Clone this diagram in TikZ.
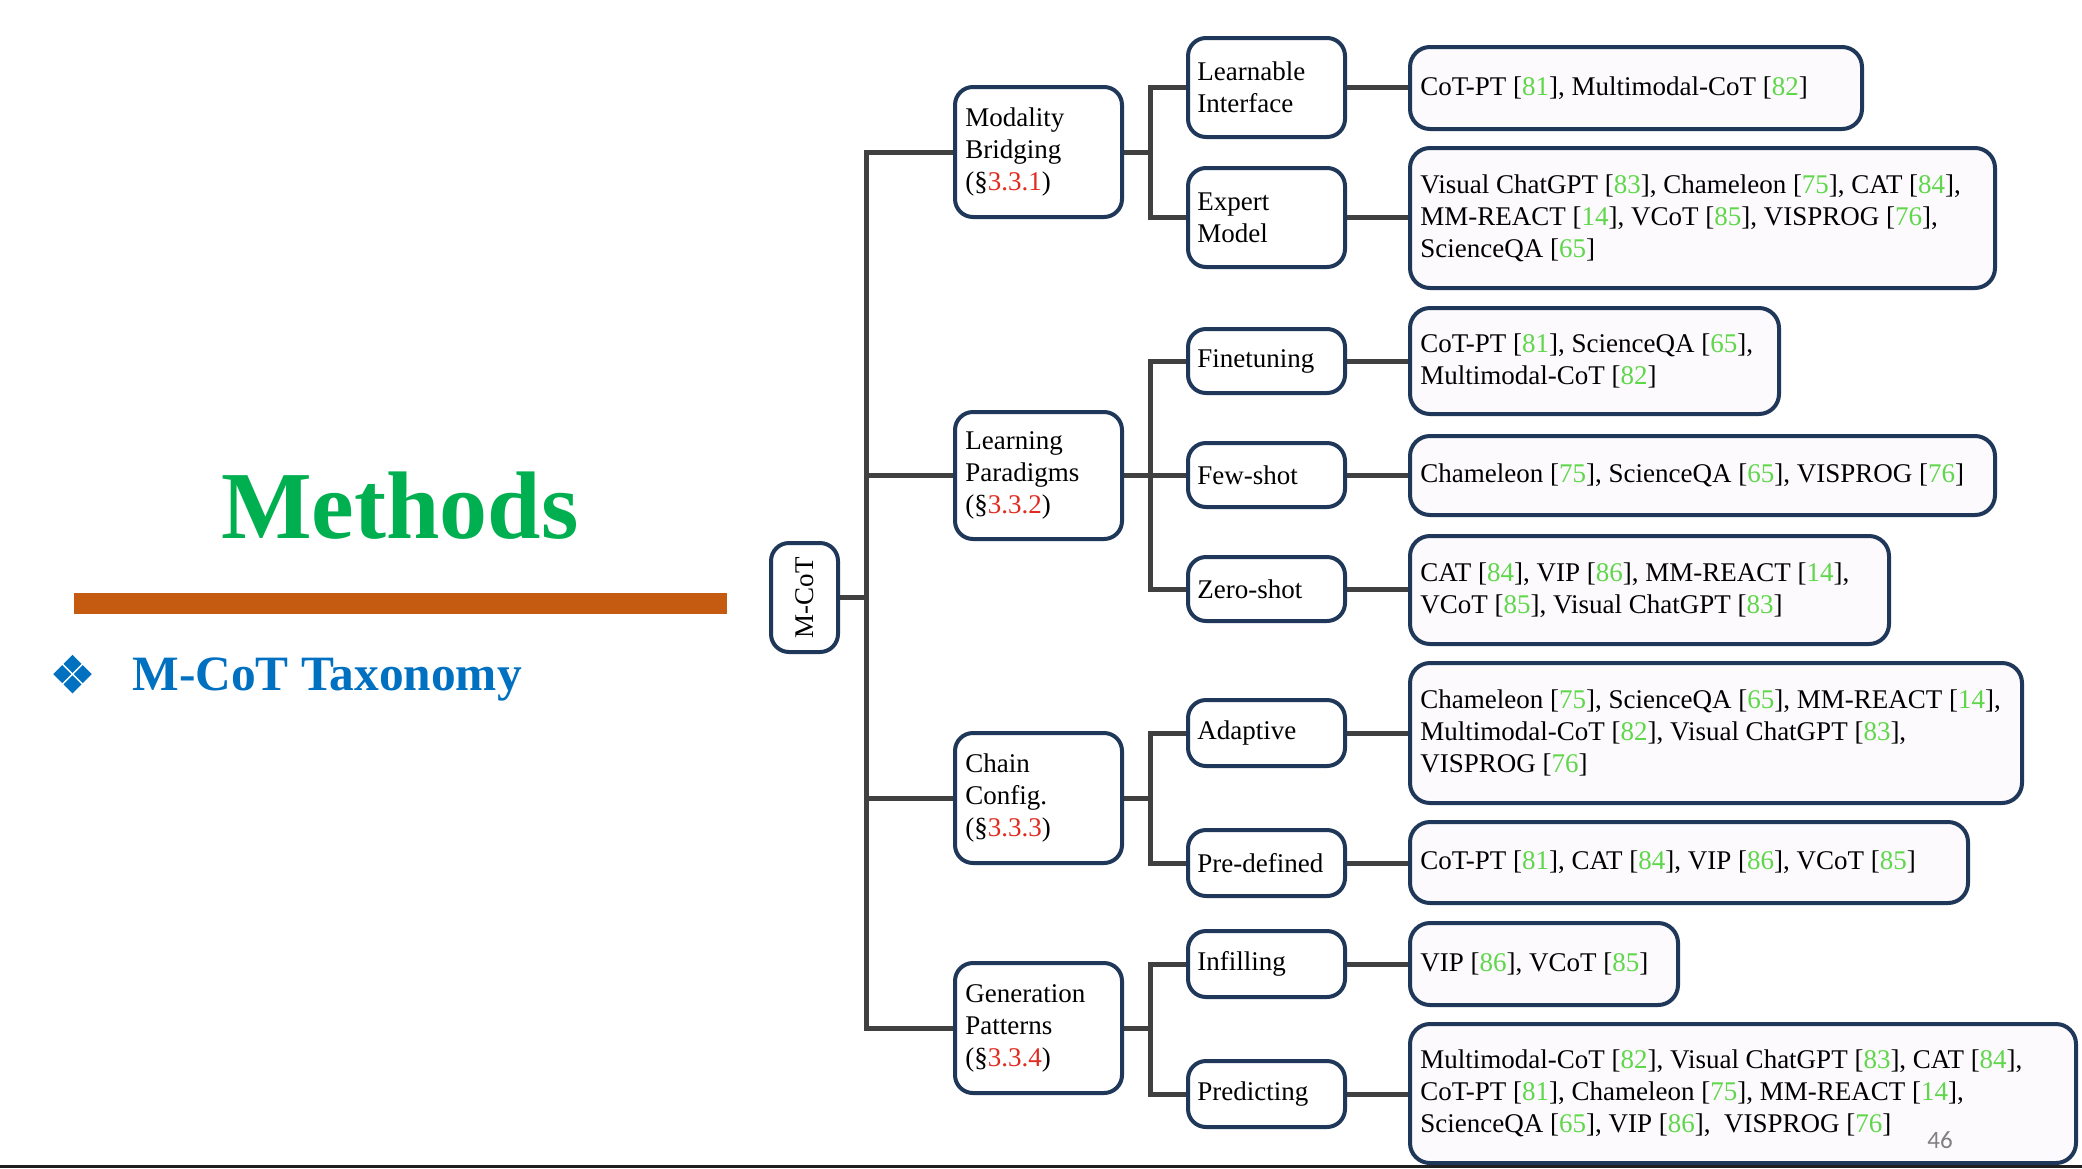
\documentclass[tikz,border=0pt]{standalone}
\usepackage{fontspec}
\setmainfont{Liberation Serif}
\newfontfamily\pagefont{Carlito}
\usetikzlibrary{calc}
\definecolor{boxblue}{RGB}{31,56,90}
\definecolor{linegray}{RGB}{64,64,64}
\definecolor{leaffill}{RGB}{252,250,252}
\definecolor{refgreen}{RGB}{95,215,75}
\definecolor{secred}{RGB}{224,43,32}
\definecolor{methgreen}{RGB}{0,176,80}
\definecolor{taxblue}{RGB}{0,112,192}
\definecolor{barorange}{RGB}{197,90,17}
\definecolor{pagegray}{RGB}{128,128,128}
\newcommand\gref[1]{[\textcolor{refgreen}{#1}]}
\newcommand\sref[1]{(\S\textcolor{secred}{#1})}
\pgfdeclarelayer{back}
\pgfdeclarelayer{bg}
\pgfsetlayers{back,bg,main}
\newcommand\bx[8]{%
  \node[#2, minimum width={(#5-#3)*0.5pt}, minimum height={(#6-#4)*0.5pt}] (#1) at ({(#3+#5)/2},{(#4+#6)/2}) {};
  \node[txt, anchor=west] (#1t) at ([xshift=#8pt]#1.west) {#7};}
\begin{document}
\begin{tikzpicture}[x=0.5pt,y=-0.5pt,
  inner/.style={draw=boxblue, line width=2pt, rounded corners=9pt, fill=white, inner sep=0pt},
  leafbox/.style={draw=boxblue, line width=2pt, rounded corners=10pt, fill=leaffill, inner sep=0pt},
  txt/.style={inner sep=0pt, align=left, font=\fontsize{13.5}{16}\selectfont},
  conn/.style={draw=linegray, line width=2.5pt}]
\useasboundingbox (0,0) rectangle (2082,1168);
\begin{pgfonlayer}{back}
\fill[white] (0,0) rectangle (2082,1168);
\end{pgfonlayer}

% left title area
\node[anchor=base, inner sep=0pt, text=methgreen, font=\fontsize{48}{56}\selectfont\bfseries] (meth) at (400,538) {Methods};
\fill[barorange] (74,593) rectangle (727,614);
\begin{scope}[shift={(72.5,674)}]
  \foreach \dx/\dy in {-10.25/0, 10.25/0, 0/-10.25, 0/10.25}{
    \fill[taxblue] (\dx-9,\dy) -- (\dx,\dy-9) -- (\dx+9,\dy) -- (\dx,\dy+9) -- cycle;}
\end{scope}
\node[anchor=base west, inner sep=0pt, text=taxblue, font=\fontsize{24.7}{30}\selectfont\bfseries] (tax) at (132,690) {M-CoT Taxonomy};

% root
\node[inner, minimum width=33.5pt, minimum height=54.5pt] (mcot) at (804.5,597.5) {};
\node[txt, rotate=90] (mcott) at (mcot.center) {M-CoT};

% level 1
\bx{mb}{inner}{955}{87}{1122}{217}{Modality\\Bridging\\\sref{3.3.1}}{6}
\bx{lp}{inner}{955}{412}{1122}{539}{Learning\\Paradigms\\\sref{3.3.2}}{6}
\bx{cc}{inner}{955}{733}{1122}{863}{Chain\\Config.\\\sref{3.3.3}}{6}
\bx{gp}{inner}{955}{963}{1122}{1093}{Generation\\Patterns\\\sref{3.3.4}}{6}

% level 2
\bx{li}{inner}{1188}{38}{1345}{137}{Learnable\\Interface}{5.5}
\bx{em}{inner}{1188}{168}{1345}{267}{Expert\\Model}{5.5}
\bx{ft}{inner}{1188}{329}{1345}{393}{Finetuning}{5.5}
\bx{fs}{inner}{1188}{443}{1345}{507}{Few-shot}{5.5}
\bx{zs}{inner}{1188}{557}{1345}{621}{Zero-shot}{5.5}
\bx{ad}{inner}{1188}{700}{1345}{766}{Adaptive}{5.5}
\bx{pd}{inner}{1188}{830}{1345}{896}{Pre-defined}{5.5}
\bx{inf}{inner}{1188}{931}{1345}{997}{Infilling}{5.5}
\bx{pr}{inner}{1188}{1061}{1345}{1127}{Predicting}{5.5}

% leaves
\bx{la}{leafbox}{1410}{47}{1862}{129}{CoT-PT \gref{81}, Multimodal-CoT \gref{82}}{6}
\bx{lb}{leafbox}{1410}{148}{1995}{288}{Visual ChatGPT \gref{83}, Chameleon \gref{75}, CAT \gref{84},\\MM-REACT \gref{14}, VCoT \gref{85}, VISPROG \gref{76},\\ScienceQA \gref{65}}{6}
\bx{lc}{leafbox}{1410}{308}{1779}{414}{CoT-PT \gref{81}, ScienceQA \gref{65},\\Multimodal-CoT \gref{82}}{6}
\bx{ld}{leafbox}{1410}{436}{1995}{515}{Chameleon \gref{75}, ScienceQA \gref{65}, VISPROG \gref{76}}{6}
\bx{le}{leafbox}{1410}{536}{1889}{644}{CAT \gref{84}, VIP \gref{86}, MM-REACT \gref{14},\\VCoT \gref{85}, Visual ChatGPT \gref{83}}{6}
\bx{lf}{leafbox}{1410}{663}{2022}{803}{Chameleon \gref{75}, ScienceQA \gref{65}, MM-REACT \gref{14},\\Multimodal-CoT \gref{82}, Visual ChatGPT \gref{83},\\VISPROG \gref{76}}{6}
\bx{lg}{leafbox}{1410}{822}{1968}{903}{CoT-PT \gref{81}, CAT \gref{84}, VIP \gref{86}, VCoT \gref{85}}{6}
\bx{lh}{leafbox}{1410}{923}{1678}{1005}{VIP \gref{86}, VCoT \gref{85}}{6}
\bx{li2}{leafbox}{1410}{1024}{2076}{1163}{Multimodal-CoT \gref{82}, Visual ChatGPT \gref{83}, CAT \gref{84},\\CoT-PT \gref{81}, Chameleon \gref{75}, MM-REACT \gref{14},\\ScienceQA \gref{65}, VIP \gref{86},\ \ VISPROG \gref{76}}{6}

% connectors
\coordinate (trunk) at (866,0);
\coordinate (br) at (1150,0);
\begin{pgfonlayer}{bg}
\draw[conn] (mcot.east) -- (mcot.east -| trunk);
\draw[conn] (mb.west) -- (mb.west -| trunk) -- (gp.west -| trunk) -- (gp.west);
\draw[conn] (lp.west) -- (lp.west -| trunk);
\draw[conn] (cc.west) -- (cc.west -| trunk);
% level1 -> level2
\draw[conn] (mb.east) -- (mb.east -| br);
\draw[conn] (li.west) -- (li.west -| br) -- (em.west -| br) -- (em.west);
\draw[conn] (lp.east) -- (lp.east -| br);
\draw[conn] (ft.west) -- (ft.west -| br) -- (zs.west -| br) -- (zs.west);
\draw[conn] (fs.west) -- (fs.west -| br);
\draw[conn] (cc.east) -- (cc.east -| br);
\draw[conn] (ad.west) -- (ad.west -| br) -- (pd.west -| br) -- (pd.west);
\draw[conn] (gp.east) -- (gp.east -| br);
\draw[conn] (inf.west) -- (inf.west -| br) -- (pr.west -| br) -- (pr.west);
% level2 -> leaves
\draw[conn] (li.east) -- (li.east -| la.west);
\draw[conn] (em.east) -- (em.east -| lb.west);
\draw[conn] (ft.east) -- (ft.east -| lc.west);
\draw[conn] (fs.east) -- (fs.east -| ld.west);
\draw[conn] (zs.east) -- (zs.east -| le.west);
\draw[conn] (ad.east) -- (ad.east -| lf.west);
\draw[conn] (pd.east) -- (pd.east -| lg.west);
\draw[conn] (inf.east) -- (inf.east -| lh.west);
\draw[conn] (pr.east) -- (pr.east -| li2.west);
\end{pgfonlayer}

% page number and bottom rule
\node[inner sep=0pt, text=pagegray, font=\pagefont\fontsize{12.5}{15}\selectfont] (pnum) at (1940,1140) {46};
\fill[black!88] (0,1165) rectangle (2082,1168);
\end{tikzpicture}
\end{document}
